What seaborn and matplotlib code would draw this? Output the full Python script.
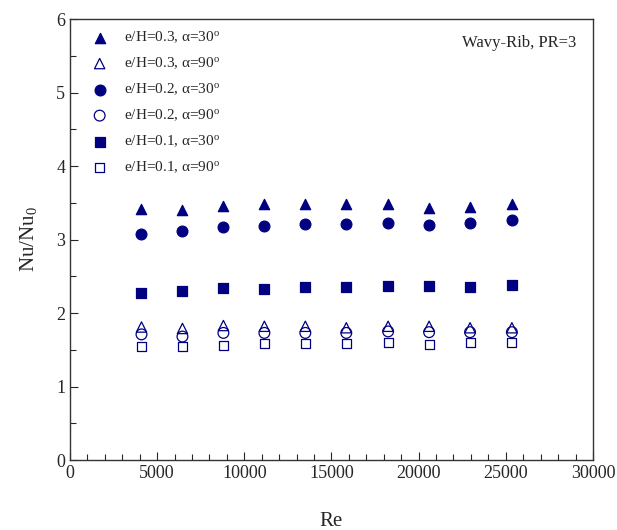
import numpy as np
import pandas as pd
import matplotlib
matplotlib.use("Agg")
import matplotlib.pyplot as plt
from matplotlib.ticker import MultipleLocator
import seaborn as sns

# Reynolds numbers (same for every case)
re = [4100, 6450, 8800, 11150, 13500, 15850, 18250, 20600, 22950, 25350]

# Nu/Nu0 for each rib case
eh03_a30 = [3.41, 3.40, 3.46, 3.48, 3.49, 3.48, 3.48, 3.43, 3.44, 3.49]
eh03_a90 = [1.81, 1.79, 1.83, 1.82, 1.82, 1.80, 1.82, 1.82, 1.80, 1.80]
eh02_a30 = [3.08, 3.12, 3.17, 3.19, 3.21, 3.21, 3.22, 3.20, 3.22, 3.26]
eh02_a90 = [1.71, 1.68, 1.73, 1.73, 1.73, 1.73, 1.75, 1.74, 1.74, 1.74]
eh01_a30 = [2.27, 2.30, 2.34, 2.33, 2.36, 2.36, 2.37, 2.37, 2.35, 2.38]
eh01_a90 = [1.55, 1.54, 1.56, 1.58, 1.58, 1.59, 1.60, 1.57, 1.60, 1.60]

labels = ["e/H=0.3, α=30$^{\\rm o}$", "e/H=0.3, α=90$^{\\rm o}$",
          "e/H=0.2, α=30$^{\\rm o}$", "e/H=0.2, α=90$^{\\rm o}$",
          "e/H=0.1, α=30$^{\\rm o}$", "e/H=0.1, α=90$^{\\rm o}$"]
series = [eh03_a30, eh03_a90, eh02_a30, eh02_a90, eh01_a30, eh01_a90]
markers = ["^", "^", "o", "o", "s", "s"]
filled = [True, False, True, False, True, False]
sizes = [55, 55, 60, 60, 42, 42]

navy = "#000080"

sns.set_style("ticks")
plt.rcParams["font.family"] = ["Liberation Serif", "DejaVu Serif"]
plt.rcParams["mathtext.fontset"] = "custom"
plt.rcParams["mathtext.rm"] = "Liberation Serif"
plt.rcParams["mathtext.it"] = "Liberation Serif:italic"

fig = plt.figure(figsize=(6.17, 5.30), dpi=100)
ax = fig.add_axes([0.1135, 0.132, 0.8475, 0.832])

for vals, lab, m, f, s in zip(series, labels, markers, filled, sizes):
    df = pd.DataFrame({"Re": re, "Nu": vals})
    sns.scatterplot(data=df, x="Re", y="Nu", marker=m, s=s, color=navy,
                    edgecolor=navy, linewidth=0.9, label=lab, ax=ax)
    if not f:
        ax.collections[-1].set_facecolor("none")

ax.set_xlim(0, 30000)
ax.set_ylim(0, 6)
ax.xaxis.set_major_locator(MultipleLocator(5000))
ax.xaxis.set_minor_locator(MultipleLocator(1000))
ax.yaxis.set_major_locator(MultipleLocator(1))
ax.yaxis.set_minor_locator(MultipleLocator(0.5))
ax.tick_params(which="both", direction="in", top=False, right=False, labelsize=13)
ax.tick_params(which="major", length=6, width=0.8)
ax.tick_params(which="minor", length=4, width=0.8)
for sp in ax.spines.values():
    sp.set_linewidth(1.0)
    sp.set_color("#333333")

ax.set_xlabel("Re", fontsize=15, labelpad=22)
ax.set_ylabel("Nu/Nu$_0$", fontsize=15, labelpad=12)

ax.text(0.969, 0.945, "Wavy-Rib, PR=3", transform=ax.transAxes,
        ha="right", va="center", fontsize=12)

leg = ax.legend(loc="upper left", frameon=False, fontsize=11, scatterpoints=1,
                handletextpad=0.6, labelspacing=0.68, borderaxespad=0.3,
                bbox_to_anchor=(0.007, 1.0))

fig.savefig("out.png", dpi=100)
